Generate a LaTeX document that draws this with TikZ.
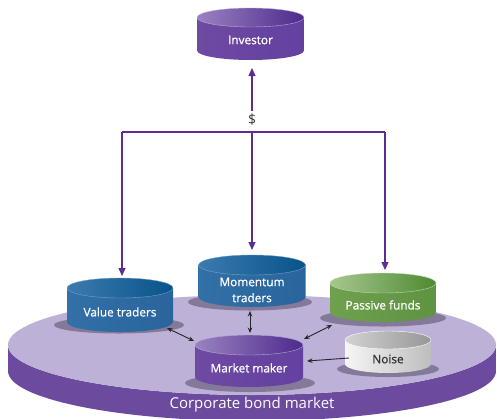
\documentclass[tikz,border=0pt]{standalone}
\usepackage{fontspec}
\setmainfont{Open Sans}
\newfontfamily\lblfont[FakeBold=0.8]{Open Sans}
\usetikzlibrary{arrows.meta,calc}
\definecolor{arrowpurple}{HTML}{5A2E92}
\definecolor{disctop}{HTML}{BDB1D8}
\definecolor{discside}{HTML}{6C4A9E}
\definecolor{discmid}{HTML}{A28DC8}
\definecolor{shadowc}{HTML}{847999}
\definecolor{blue-ish1}{HTML}{3270A8}
\definecolor{blue-ish2}{HTML}{2A649C}
\definecolor{blue-ish3}{HTML}{3C7AB0}
\definecolor{blue-ish4}{HTML}{07548A}
\definecolor{purp1}{HTML}{6E4AA3}
\definecolor{purp2}{HTML}{6440A0}
\definecolor{purp3}{HTML}{9A82C2}
\definecolor{purp4}{HTML}{4D2A8C}
\definecolor{green1}{HTML}{6FA04E}
\definecolor{green2}{HTML}{5E9342}
\definecolor{green3}{HTML}{A6C78E}
\definecolor{green4}{HTML}{4E8A32}
\definecolor{gray1}{HTML}{F6F6F6}
\definecolor{gray2}{HTML}{BDBDBD}
\definecolor{gray3}{HTML}{D2D2D2}
\definecolor{gray4}{HTML}{979797}
\tikzset{
  cylnode/.style={rectangle,inner sep=0pt,outer sep=0pt,draw=none},
  lbl/.style={text=white,font=\lblfont\fontsize{11.8}{16}\selectfont,align=center,inner sep=1pt},
  darklbl/.style={lbl,text=black!80},
  shadowe/.style={fill=shadowc},
  bluebody/.style={left color=blue-ish1,right color=blue-ish2},
  bluetop/.style={left color=blue-ish3,right color=blue-ish4,draw=blue-ish3!70!white,line width=.4pt},
  purplebody/.style={left color=purp1,right color=purp2},
  purpletop/.style={left color=purp3,right color=purp4,draw=purp3!70!white,line width=.4pt},
  greenbody/.style={left color=green1,right color=green2},
  greentop/.style={left color=green3,right color=green4,draw=green3!70!white,line width=.4pt},
  graybody/.style={left color=gray1,right color=gray2},
  graytop/.style={left color=gray3,right color=gray4,draw=white,line width=.4pt},
  parrow/.style={draw=arrowpurple,line width=1.4pt,-{Triangle[length=8pt,width=7pt]}},
  barrow/.style={draw=black!85,line width=0.9pt,{Stealth[length=5.5pt,width=4.5pt]}-{Stealth[length=5.5pt,width=4.5pt]}},
  sarrow/.style={draw=black!85,line width=0.9pt,-{Stealth[length=5.5pt,width=4.5pt]}},
}
% #1 name, #2 cx, #3 top centre y, #4 bottom centre y, #5 rx, #6 ry, #7 kind
\newcommand\mycyl[7]{%
  \path[#7body] ({#2-#5},#3) -- ({#2-#5},#4)
     arc[start angle=180,end angle=0,x radius=#5,y radius=#6] -- ({#2+#5},#3) -- cycle;
  \path[#7top] (#2,#3) ellipse[x radius=#5,y radius=#6];
  \node[cylnode,minimum width={2*#5},minimum height={#4-#3+2*#6}] (#1) at (#2,{(#3+#4)/2}) {};
}
\begin{document}
\begin{tikzpicture}[x=1pt,y=-1pt]
\useasboundingbox (0,0) rectangle (497,418);
% platform
\path[left color=discside,middle color=discmid,right color=discside]
  (8,345) -- (8,371) arc[start angle=180,end angle=0,x radius=244,y radius=50]
  -- (496,345) arc[start angle=0,end angle=180,x radius=244,y radius=50] -- cycle;
\fill[disctop] (252,345) ellipse[x radius=244,y radius=50];
\node[text=white,font=\fontsize{15}{18}\selectfont] (cbm) at (252,405) {Corporate bond market};
% shadows
\fill[shadowe] (119,325) ellipse[x radius=65,y radius=8.5];
\fill[shadowe] (250,302) ellipse[x radius=62,y radius=8.5];
\fill[shadowe] (383,318) ellipse[x radius=63,y radius=8.5];
\fill[shadowe] (250,383) ellipse[x radius=65,y radius=9];
\fill[shadowe] (388,369) ellipse[x radius=51,y radius=8];
% cylinders
\mycyl{inv}{250.5}{17.5}{50.5}{53.5}{9.5}{purple}
\mycyl{vt}{120}{288}{322}{53}{10}{blue}
\mycyl{mo}{252}{265}{297}{53.5}{10}{blue}
\mycyl{pf}{383}{283}{312}{53}{10}{green}
\mycyl{mm}{249}{345}{377}{54}{10}{purple}
\mycyl{no}{388}{340}{364}{43}{9}{gray}
% labels
\node[lbl] (inv-l) at (250.5,40) {Investor};
\node[lbl] (vt-l) at (120,312) {Value traders};
\node[lbl] (mo-l) at (252,290) {Momentum\\traders};
\node[lbl] (pf-l) at (383,305) {Passive funds};
\node[lbl] (mm-l) at (249,368) {Market maker};
\node[darklbl] (no-l) at (388,359) {Noise};
% money flow
\node[text=black!80,font=\fontsize{14}{16}\selectfont,inner sep=0pt] (dollar) at (252,120) {\$};
\coordinate (jn) at (252,132);
\draw[parrow,shorten <=3pt,shorten >=8pt] (dollar.north) -- (dollar.north |- inv.south);
\draw[arrowpurple,line width=1.4pt] ($(vt.north |- jn)+(2,0)$) -- ($(pf.north |- jn)+(2,0)$);
\draw[parrow,shorten >=2pt] ($(vt.north |- jn)+(2,0)$) -- ($(vt.north)+(2,0)$);
\draw[parrow,shorten >=5pt] (jn) -- (mo.north);
\draw[parrow,shorten >=3pt] ($(pf.north |- jn)+(2,0)$) -- ($(pf.north)+(2,0)$);
% trading links
\draw[barrow] ($(vt.south east)+(-6,-4)$) -- ($(mm.north west)+(-1,6)$);
\draw[barrow] ($(mo.south)+(-2,4)$) -- ($(mm.north)+(1,-2)$);
\draw[barrow] ($(pf.south west)+(2,3)$) -- ($(mm.north east)+(1,4)$);
\draw[sarrow] ($(no.west)+(4,6)$) -- ($(mm.east)+(4,0)$);
\end{tikzpicture}
\end{document}
